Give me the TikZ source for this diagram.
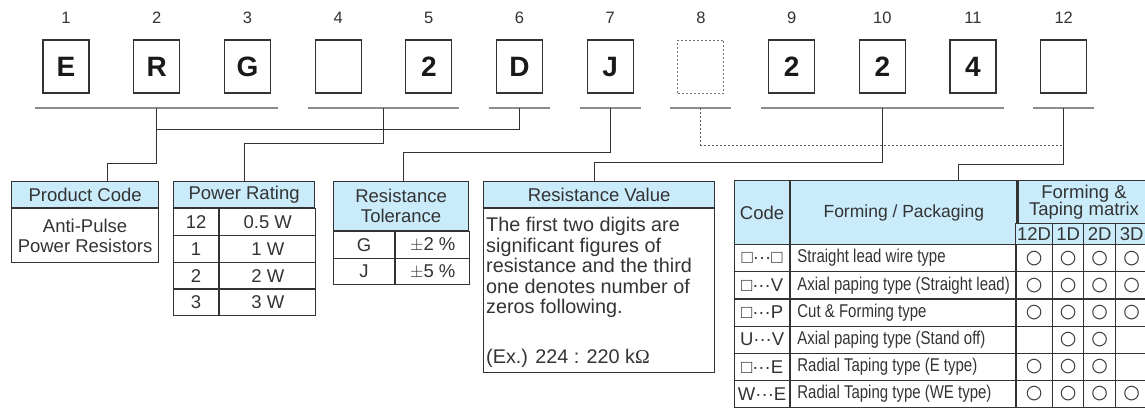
\documentclass[tikz,border=0pt]{standalone}
\usepackage{fontspec}
\setmainfont{Liberation Sans}
\newfontfamily\serifo{Liberation Serif}
\newfontfamily\narrowfont[FakeStretch=0.81]{Liberation Sans}
\newfontfamily\symfont{DejaVu Sans}
\usetikzlibrary{positioning,calc}

\definecolor{hdrblue}{RGB}{201,235,250}
\definecolor{ink}{RGB}{51,51,51}
\definecolor{rulegray}{RGB}{140,140,140}
\newcommand\tabfont{\fontsize{18.5}{20.5}\selectfont}
\newcommand\descfont{\narrowfont\fontsize{18.5}{20}\selectfont}

\tikzset{
  digitbox/.style={draw=ink, line width=1.2pt, minimum width=46pt, minimum height=53pt, inner sep=0pt,
    font=\fontsize{28}{28}\selectfont\bfseries, text=black!90},
  dashbox/.style={digitbox, draw=ink!70, line width=1pt, dash pattern=on 2pt off 2pt},
  posnum/.style={font=\fontsize{16.5}{16.5}\selectfont, text=ink},
  uline/.style={draw=rulegray, line width=2pt},
  link/.style={draw=ink, line width=1pt},
  dlink/.style={draw=ink!80, line width=1pt, dash pattern=on 2pt off 2pt},
  hdr/.style={draw=ink, line width=1.2pt, fill=hdrblue, inner sep=0pt, text=ink, font=\tabfont, anchor=north west},
  cell/.style={draw=ink, line width=1.2pt, inner sep=0pt, text=ink, font=\tabfont, anchor=north west},
  txt/.style={inner sep=0pt, text=ink, font=\tabfont},
}

\begin{document}
\begin{tikzpicture}[x=1pt, y=-1pt]
    \useasboundingbox (0,0) rectangle (1145,408);

    \foreach \ch/\st [count=\i] in {E/digitbox,R/digitbox,G/digitbox, /digitbox,2/digitbox,D/digitbox,
        J/digitbox, /dashbox,2/digitbox,2/digitbox,4/digitbox, /digitbox}{
        \node[\st] (b\i) at ({66+90.7*(\i-1)},66.5) {\ch};
        \node[posnum] (n\i) at ({66+90.7*(\i-1)},18) {\i};
    }

    \coordinate (m45) at ($(b4)!0.5!(b5)$);
    \coordinate (u1) at (b2 |- 0,108);
    \coordinate (u2) at (m45 |- 0,108);
    \coordinate (u6) at (b6 |- 0,108);
    \coordinate (u7) at (b7 |- 0,108);
    \coordinate (u8) at (b8 |- 0,108);
    \coordinate (u10) at (b10 |- 0,108);
    \coordinate (u12) at (b12 |- 0,108);

    \draw[uline] ([xshift=-7pt]b1.west |- 0,108) -- ([xshift=7pt]b3.east |- 0,108);
    \draw[uline] ([xshift=-7pt]b4.west |- 0,108) -- ([xshift=7pt]b5.east |- 0,108);
    \draw[uline] ([xshift=-7pt]b6.west |- 0,108) -- ([xshift=7pt]b6.east |- 0,108);
    \draw[uline] ([xshift=-7pt]b7.west |- 0,108) -- ([xshift=7pt]b7.east |- 0,108);
    \draw[uline] ([xshift=-7pt]b8.west |- 0,108) -- ([xshift=7pt]b8.east |- 0,108);
    \draw[uline] ([xshift=-7pt]b9.west |- 0,108) -- ([xshift=7pt]b11.east |- 0,108);
    \draw[uline] ([xshift=-7pt]b12.west |- 0,108) -- ([xshift=7pt]b12.east |- 0,108);

    % product code
    \node[hdr, minimum width=147pt, minimum height=26pt] (pc) at (11,181) {Product Code};
    \node[cell, minimum width=147pt, minimum height=54pt, align=center] (pcb) at (pc.south west)
        {Anti-Pulse\\Power Resistors};

    % power rating
    \node[hdr, minimum width=141pt, minimum height=26pt] (pr) at (173,181) {Power Rating};
    \foreach \k/\w [count=\r] in {12/0.5 W,1/1 W,2/2 W,3/3 W}{
        \node[cell, minimum width=45pt, minimum height=26.75pt] (prk\r) at ($(pr.south west)+(0,{26.75*(\r-1)})$) {\k};
        \node[cell, minimum width=96pt, minimum height=26.75pt] (prw\r) at (prk\r.north east) {\w};
    }

    % resistance tolerance
    \node[hdr, minimum width=135pt, minimum height=49pt, align=center] (rt) at (333,181) {Resistance\\Tolerance};
    \foreach \k/\w [count=\r] in {G/{$\pm$2 \%},J/{$\pm$5 \%}}{
        \node[cell, minimum width=61pt, minimum height=26.5pt] (rtk\r) at ($(rt.south west)+(0,{26.5*(\r-1)})$) {\k};
        \node[cell, minimum width=74pt, minimum height=26.5pt] (rtw\r) at (rtk\r.north east) {\w};
    }

    % resistance value
    \node[hdr, minimum width=231pt, minimum height=26pt] (rv) at (483,181) {Resistance Value};
    \node[cell, minimum width=231pt, minimum height=164pt] (rvb) at (rv.south west) {};
    \node[txt, anchor=north west, align=left, font=\fontsize{19.8}{20.5}\selectfont] (rvt)
        at ($(rvb.north west)+(3,9)$)
        {The first two digits are\\significant figures of\\resistance and the third\\one denotes number of\\zeros following.};
    \node[txt, anchor=base west, font=\fontsize{19.8}{20.5}\selectfont] (rvex) at (486,363) {(Ex.) 224 : 220 k{\serifo Ω}};

    % forming / packaging
    \node[hdr, minimum width=55pt, minimum height=64pt] (fc) at (734,180) {Code};
    \node[hdr, minimum width=226pt, minimum height=64pt, font=\fontsize{17.5}{20}\selectfont] (ff)
        at (fc.north east) {Forming / Packaging};
    \node[hdr, minimum width=132pt, minimum height=43pt, align=center, font=\fontsize{18.5}{17.5}\selectfont]
        (fm) at (ff.north east) {Forming \&\\Taping matrix};
    \foreach \s/\cx/\cw in {12D/1015/37,1D/1052/31,2D/1083/32,3D/1115/32}{
        \node[hdr, minimum width=\cw pt, minimum height=21pt] (fs\s) at (\cx,223) {\s};
    }
    \foreach \c/\t/\ma/\mb/\mc/\md [count=\r] in {
        □···□/Straight lead wire type/1/1/1/1,
        □···V/Axial paping type (Straight lead)/1/1/1/1,
        □···P/Cut \& Forming type/1/1/1/1,
        U···V/Axial paping type (Stand off)/0/1/1/0,
        □···E/Radial Taping type (E type)/1/1/1/0,
        W···E/Radial Taping type (WE type)/1/1/1/1}{
        \node[cell, minimum width=55pt, minimum height=27.17pt] (fc\r) at (734,{244+27.17*(\r-1)}) {\c};
        \node[cell, minimum width=226pt, minimum height=27.17pt] (ft\r) at (fc\r.north east) {};
        \node[txt, anchor=west, font=\descfont] (fd\r) at ([xshift=7pt]ft\r.west) {\t};
        \foreach \v/\cx/\cw [count=\k] in {\ma/1015/37,\mb/1052/31,\mc/1083/32,\md/1115/32}{
            \node[cell, minimum width=\cw pt, minimum height=27.17pt, font=\symfont\fontsize{19}{19}\selectfont]
                (fx\r-\k) at (\cx,{244+27.17*(\r-1)}) {\ifnum\v=1 ○\fi};
        }
    }

    % connectors
    \draw[link] (u1) -- (u1 |- 0,163) -| (pc.north -| 107,0);
    \draw[link] (u6) |- (u1 |- 0,129);
    \draw[link] (u2) -- (u2 |- 0,143) -| (pr.north);
    \draw[link] (u7) -- (u7 |- 0,152) -| (rt.north -| 403,0);
    \draw[link] (u10) -- (u10 |- 0,162) -| (rv.north -| 594,0);
    \draw[dlink] (u8) |- (u12 |- 0,145);
    \draw[link] (u12) -- (u12 |- 0,164) -| (ff.north -| 958,0);
\end{tikzpicture}
\end{document}
